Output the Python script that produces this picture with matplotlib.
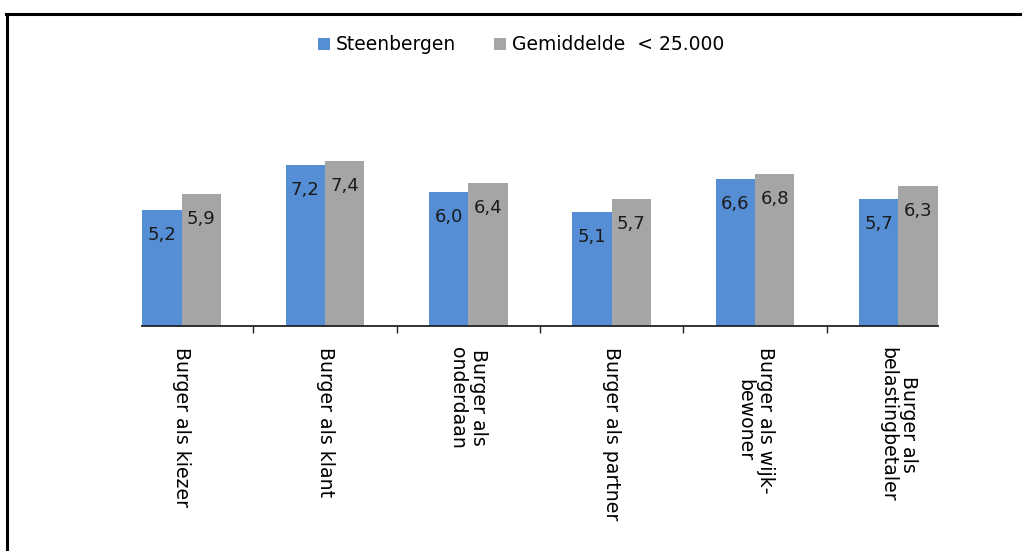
import numpy as np
import matplotlib.pyplot as plt
from matplotlib.lines import Line2D

categories = ["Burger als kiezer", "Burger als klant", "Burger als\nonderdaan",
              "Burger als partner", "Burger als wijk-\nbewoner", "Burger als\nbelastingbetaler"]
steenbergen = [5.2, 7.2, 6.0, 5.1, 6.6, 5.7]
gemiddelde = [5.9, 7.4, 6.4, 5.7, 6.8, 6.3]
series_names = ["Steenbergen", "Gemiddelde  < 25.000"]

blue = '#558ED5'
gray = '#A5A5A5'
txt = '#1a1a1a'
font = 'DejaVu Sans'

fig = plt.figure(figsize=(10.22, 5.51), dpi=100)
ax = fig.add_axes([110 / 1022, 1 - 326 / 551, 860 / 1022, 223 / 551])

x = np.arange(len(categories))
w = 0.275
b1 = ax.bar(x - w / 2, steenbergen, w, color=blue, label=series_names[0])
b2 = ax.bar(x + w / 2, gemiddelde, w, color=gray, label=series_names[1])

for bars, vals in [(b1, steenbergen), (b2, gemiddelde)]:
    for bar, v in zip(bars, vals):
        ax.annotate(f"{v:.1f}".replace('.', ','),
                    (bar.get_x() + bar.get_width() / 2, v),
                    xytext=(0, -18), textcoords='offset points',
                    ha='center', va='center', fontsize=13, color=txt, family=font)

ax.set_xlim(-0.5, len(categories) - 0.5)
ax.set_ylim(0, 10)
ax.set_yticks([])
for s in ['top', 'right', 'left']:
    ax.spines[s].set_visible(False)
ax.spines['bottom'].set_bounds(-w, len(categories) - 1 + w)
ax.spines['bottom'].set_color('#222222')
ax.spines['bottom'].set_linewidth(1.3)

ax.set_xticks(x)
ax.set_xticklabels(categories, rotation=270, ha='center', va='top',
                   multialignment='center', fontsize=13.6, family=font, color='black',
                   linespacing=1.15)
ax.tick_params(axis='x', which='major', length=0, pad=15)
ax.set_xticks(x[:-1] + 0.5, minor=True)
ax.tick_params(axis='x', which='minor', length=5, width=1, color='#222222', direction='out')

fig.legend(handles=[b1, b2], labels=series_names, loc='center',
           bbox_to_anchor=(521 / 1022, 1 - 45 / 551), ncol=2, frameon=False,
           handlelength=0.65, handleheight=0.65, handletextpad=0.3, columnspacing=2.0,
           prop={'family': font, 'size': 13.5})

# partial frame round the chart (left and top edge)
fig.add_artist(Line2D([7 / 1022, 7 / 1022], [0, 1 - 14 / 551], color='black', lw=2.2,
                      transform=fig.transFigure))
fig.add_artist(Line2D([6 / 1022, 1], [1 - 14 / 551, 1 - 14 / 551], color='black', lw=2.2,
                      transform=fig.transFigure))

fig.savefig('out.png', dpi=100)
